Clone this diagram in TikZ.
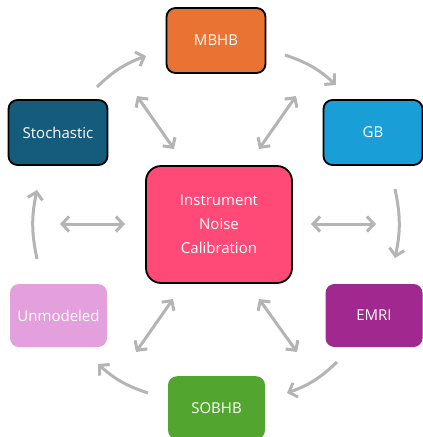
\documentclass[tikz,border=0pt]{standalone}
\usepackage{fontspec}
\setmainfont[Ligatures=NoCommon]{Open Sans}
\usetikzlibrary{arrows.meta}
\definecolor{cMBHB}{HTML}{E97332}
\definecolor{cStoch}{HTML}{155B7C}
\definecolor{cGB}{HTML}{1A9ED8}
\definecolor{cCenter}{HTML}{FF4A78}
\definecolor{cUnmod}{HTML}{E3A0DC}
\definecolor{cEMRI}{HTML}{A0288F}
\definecolor{cSOBHB}{HTML}{52A630}
\definecolor{cArrow}{HTML}{B4B4B4}
\begin{document}
\begin{tikzpicture}[x=1pt,y=-1pt,
  box/.style={rounded corners=9pt, minimum width=99pt, minimum height=65pt, inner sep=0pt, text=white, font=\fontsize{15}{17}\selectfont, align=center},
  bordered/.style={draw=black, line width=1.8pt},
  flow/.style={draw=cArrow, line width=3pt, -{Straight Barb[length=7pt,width=15pt,line width=3pt]}},
  both/.style={draw=cArrow, line width=3pt, {Straight Barb[length=7pt,width=15pt,line width=3pt]}-{Straight Barb[length=7pt,width=15pt,line width=3pt]}}
]
\useasboundingbox (0,0) rectangle (423,437);
\node[box,bordered,fill=cMBHB] (mbhb) at (216,40.5) {MBHB};
\node[box,bordered,fill=cStoch] (stoch) at (58,132.5) {Stochastic};
\node[box,bordered,fill=cGB] (gb) at (373,132.5) {GB};
\node[box,bordered,fill=cCenter,minimum width=146pt,minimum height=117pt,rounded corners=15pt,font=\fontsize{15}{24}\selectfont] (center) at (219,224.5) {Instrument\\Noise\\Calibration};
\node[box,fill=cUnmod,minimum width=97pt,minimum height=63pt] (unmod) at (58.5,315.5) {Unmodeled};
\node[box,fill=cEMRI,minimum width=97pt,minimum height=63pt] (emri) at (374,315.5) {EMRI};
\node[box,fill=cSOBHB,minimum width=97pt,minimum height=63pt,anchor=north] (sobhb) at (216.5,376) {SOBHB};
% cycle arrow endpoints
\coordinate (a1s) at (97,87);   \coordinate (a1e) at (146,56);
\coordinate (a2s) at (285,55);  \coordinate (a2e) at (336,85);
\coordinate (a3s) at (395,189); \coordinate (a3e) at (395,258);
\coordinate (a4s) at (337,362); \coordinate (a4e) at (287,393);
\coordinate (a5s) at (148,393); \coordinate (a5e) at (98,364);
\coordinate (a6s) at (37,259);  \coordinate (a6e) at (37,190);
\draw[flow] (a1s) to[bend left=12] (a1e);
\draw[flow] (a2s) to[bend left=12] (a2e);
\draw[flow] (a3s) to[bend left=12] (a3e);
\draw[flow] (a4s) to[bend left=12] (a4e);
\draw[flow] (a5s) to[bend left=12] (a5e);
\draw[flow] (a6s) to[bend left=12] (a6e);
% double arrows
\coordinate (b1s) at (137,96);  \coordinate (b1e) at (174,149);
\coordinate (b2s) at (296,96);  \coordinate (b2e) at (259,149);
\coordinate (b3s) at (60,224);  \coordinate (b3e) at (125,224);
\coordinate (b4s) at (311,224); \coordinate (b4e) at (376,224);
\coordinate (b5s) at (136,352); \coordinate (b5e) at (173,299);
\coordinate (b6s) at (297,352); \coordinate (b6e) at (259,299);
\draw[both] (b1s) -- (b1e);
\draw[both] (b2s) -- (b2e);
\draw[both] (b3s) -- (b3e);
\draw[both] (b4s) -- (b4e);
\draw[both] (b5s) -- (b5e);
\draw[both] (b6s) -- (b6e);
\end{tikzpicture}
\end{document}
